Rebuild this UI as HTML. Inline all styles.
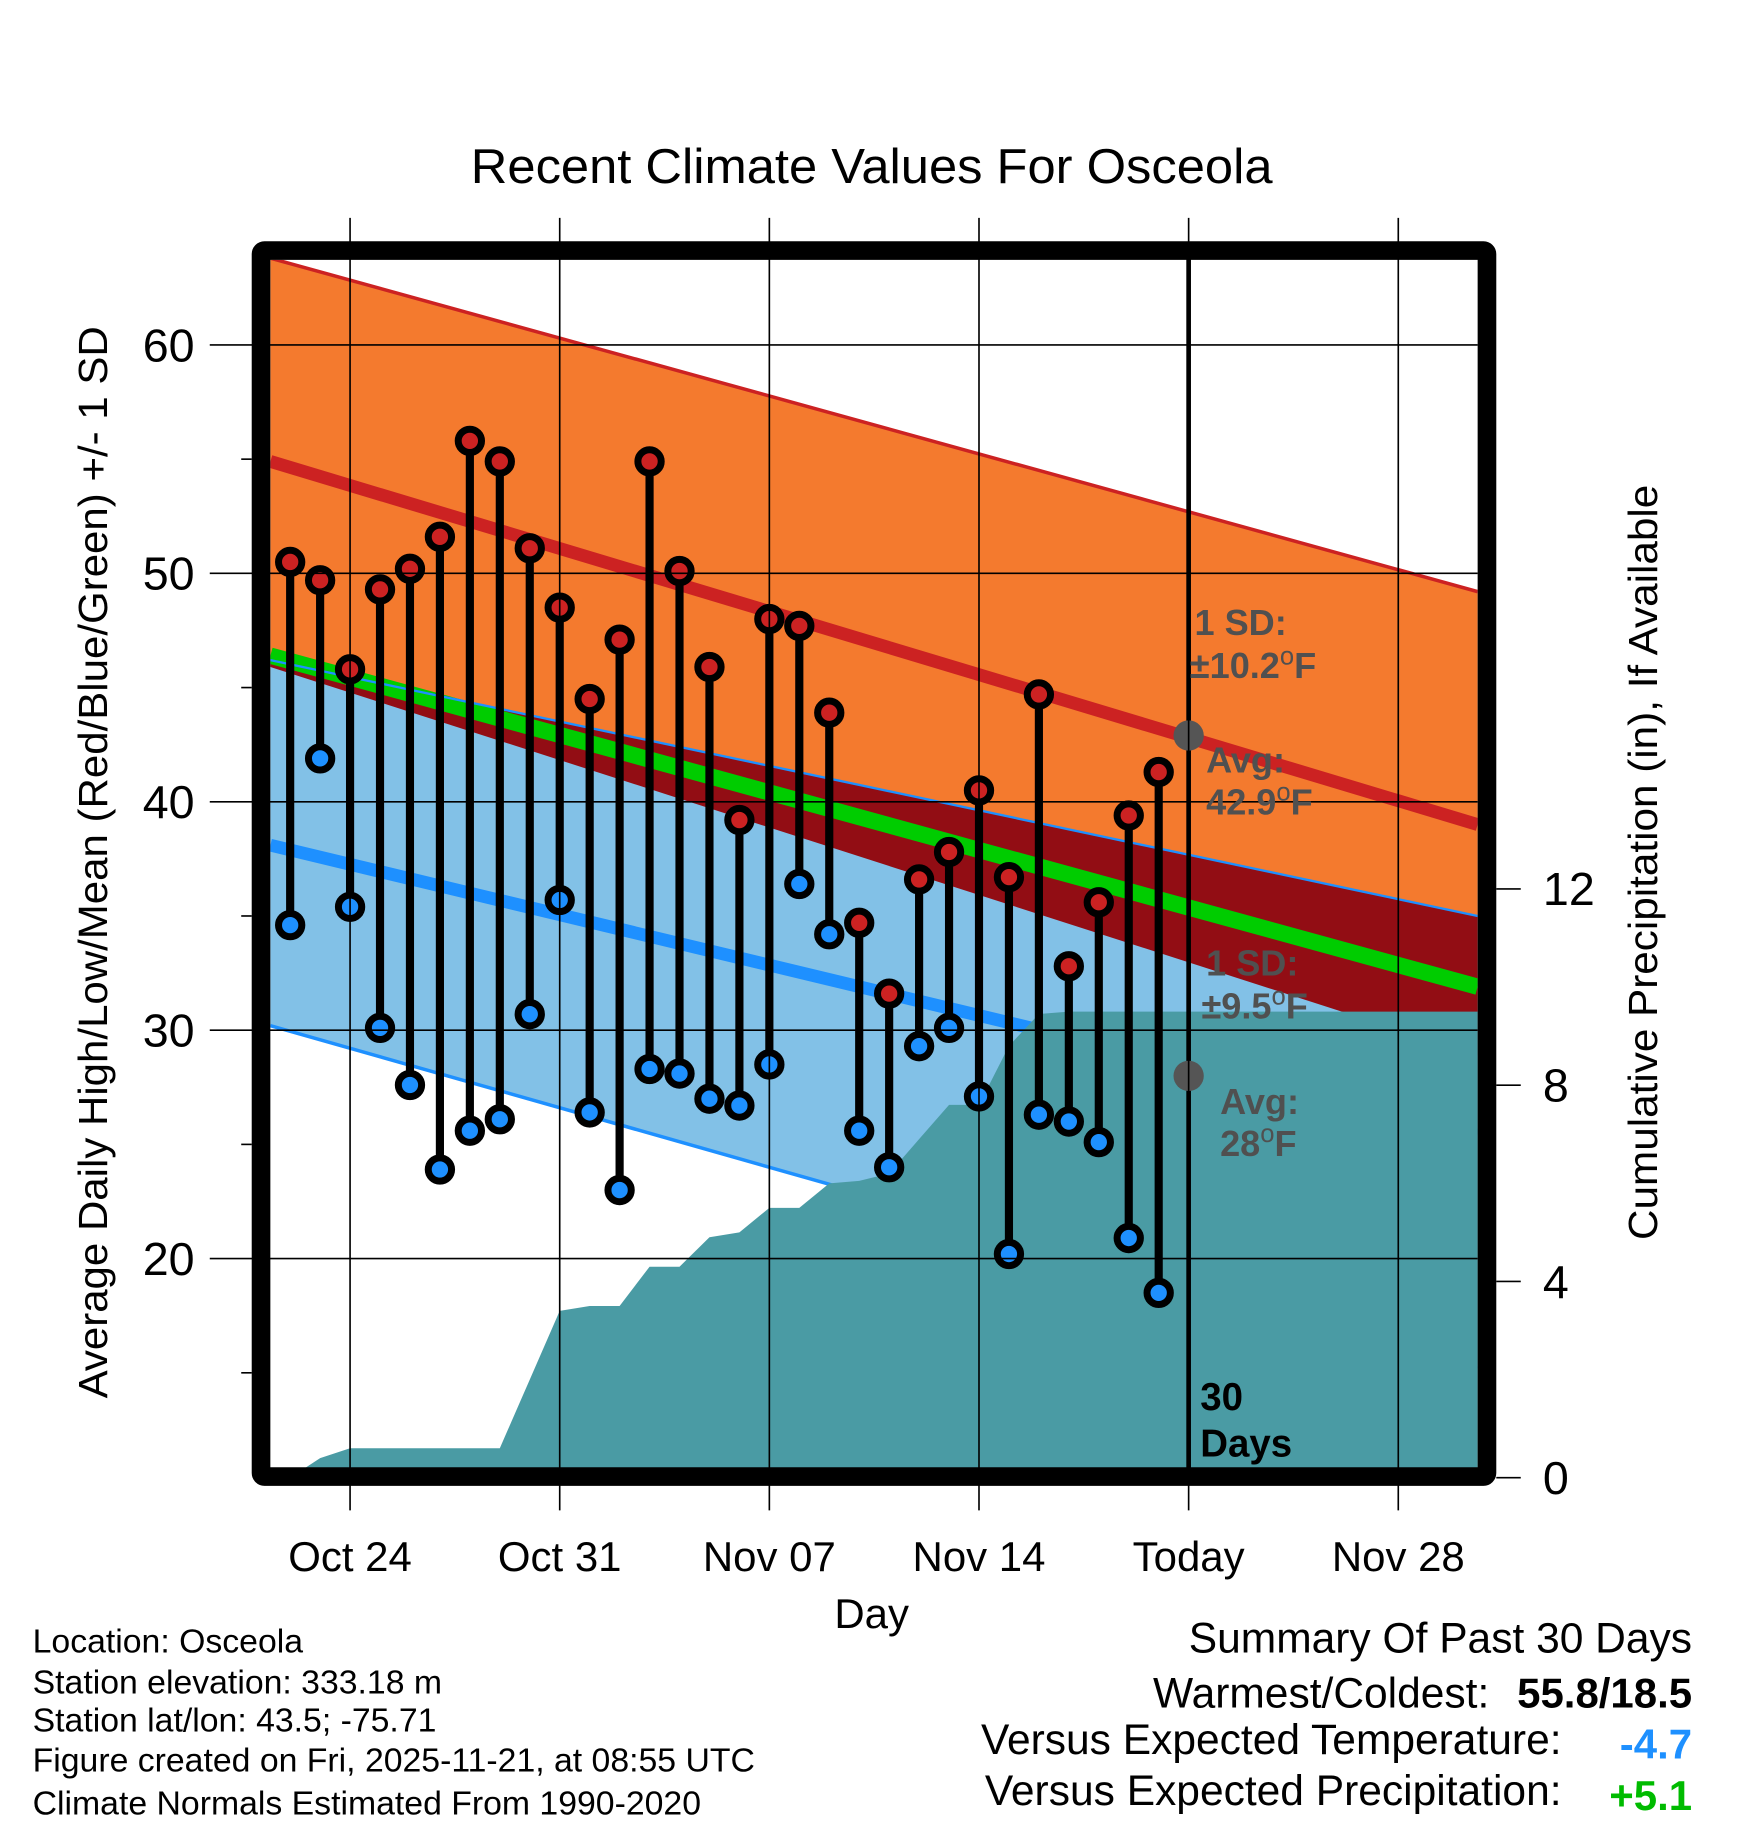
<!DOCTYPE html>
<html><head><meta charset="utf-8"><style>
html,body{margin:0;padding:0;background:#fff}
svg{display:block}
text{font-family:"Liberation Sans",sans-serif}
</style></head><body>
<svg id="chart" width="1748" height="1828" viewBox="0 0 1500 1568.6" preserveAspectRatio="none" xmlns="http://www.w3.org/2000/svg">
<defs><clipPath id="pc"><rect x="232" y="223" width="1036" height="1037"/></clipPath></defs>
<g id="plot" clip-path="url(#pc)"></g>
<g id="over"></g>
<text x="748" y="157" font-size="42" text-anchor="middle" textLength="688" lengthAdjust="spacingAndGlyphs">Recent Climate Values For Osceola</text>
<text transform="translate(92,740) rotate(-90)" font-size="35" text-anchor="middle" textLength="920" lengthAdjust="spacingAndGlyphs">Average Daily High/Low/Mean (Red/Blue/Green) +/- 1 SD</text>
<text transform="translate(1422,740) rotate(-90)" font-size="35" text-anchor="middle" textLength="648" lengthAdjust="spacingAndGlyphs">Cumulative Precipitation (in), If Available</text>
<text x="748" y="1397" font-size="36" text-anchor="middle">Day</text>
<g font-size="29">
<text x="28" y="1418">Location: Osceola</text>
<text x="28" y="1453">Station elevation: 333.18 m</text>
<text x="28" y="1486">Station lat/lon: 43.5; -75.71</text>
<text x="28" y="1520">Figure created on Fri, 2025-11-21, at 08:55 UTC</text>
<text x="28" y="1557">Climate Normals Estimated From 1990-2020</text>
</g>
<g font-size="36.5" text-anchor="end">
<text x="1452" y="1418">Summary Of Past 30 Days</text>
<text x="1278" y="1465">Warmest/Coldest:</text>
<text x="1452" y="1465" font-weight="bold" font-size="36">55.8/18.5</text>
<text x="1340" y="1505">Versus Expected Temperature:</text>
<text x="1452" y="1509" font-weight="bold" font-size="36" fill="#1e90ff">-4.7</text>
<text x="1340" y="1549">Versus Expected Precipitation:</text>
<text x="1452" y="1553" font-weight="bold" font-size="36" fill="#00bb00">+5.1</text>
</g>
</svg>
<script>
const days = ["Oct22","Oct23","Oct24","Oct25","Oct26","Oct27","Oct28","Oct29","Oct30","Oct31","Nov01","Nov02","Nov03","Nov04","Nov05","Nov06","Nov07","Nov08","Nov09","Nov10","Nov11","Nov12","Nov13","Nov14","Nov15","Nov16","Nov17","Nov18","Nov19","Nov20"];
const highs = [50.5,49.7,45.8,49.3,50.2,51.6,55.8,54.9,51.1,48.5,44.5,47.1,54.9,50.1,45.9,39.2,48.0,47.7,43.9,34.7,31.6,36.6,37.8,40.5,36.7,44.7,32.8,35.6,39.4,41.3];
const lows = [34.6,41.9,35.4,30.1,27.6,23.9,25.6,26.1,30.7,35.7,26.4,23.0,28.3,28.1,27.0,26.7,28.5,36.4,34.2,25.6,24.0,29.3,30.1,27.1,20.2,26.3,26.0,25.1,20.9,18.5];
const precip = [0,0.4,0.6,0.6,0.6,0.6,0.6,0.6,2.0,3.4,3.5,3.5,4.3,4.3,4.9,5.0,5.5,5.5,6.0,6.05,6.2,6.9,7.6,7.6,8.8,9.45,9.5,9.5,9.5,9.5];
const normDays = [-0.66, 39.65];
const hiUpper = [63.8, 49.2];
const hiMean = [54.9, 39.0];
const hiLower = [45.9, 28.9];
const meanMid = [46.4, 31.9];
const loUpper = [46.2, 35.0];
const loMean = [38.1, 25.4];
const loLower = [30.2, 15.2];
const yTicks = [60,50,40,30,20];
const yMinor = [55,45,35,25,15];
const pTicks = [0,4,8,12];
const xTickDays = [2,9,16,23,30,37];
const xTickLabels = ["Oct 24","Oct 31","Nov 07","Nov 14","Today","Nov 28"];
const todayIdx = 30;
const todayHiAvg = 42.9, todayLoAvg = 28.0;

const NS="http://www.w3.org/2000/svg";
const xs = d => 249 + d*25.7;
const ys = v => 1080 - (v-20)*19.6;
const yp = p => 1268 - p*42.1;
const plot=document.getElementById('plot'), over=document.getElementById('over'), svg=document.getElementById('chart');
function mk(tag, attrs, parent){const e=document.createElementNS(NS,tag);for(const k in attrs)e.setAttribute(k,attrs[k]);parent.appendChild(e);return e;}
function linePts(arr){return normDays.map((d,i)=>xs(d)+','+ys(arr[i]));}
function band(top,bot){const a=linePts(top), b=linePts(bot).reverse();return a.concat(b).join(' ');}

let e;
e=mk('polygon',{points:band(hiUpper,hiLower),fill:'#f47a2e'},plot);

e=mk('polygon',{points:band(loUpper,loLower),fill:'#82c1e7'},plot);

e=mk('polygon',{points:band(loUpper,hiLower),fill:'#920d14'},plot);

function ln(arr,color,w,name){const p=linePts(arr);const el=mk('polyline',{points:p.join(' '),stroke:color,'stroke-width':w,fill:'none'},plot);}
ln(meanMid,'#00cc00',14,'mean-line');
ln(loMean,'#1e90ff',11,'low-mean-line');
ln(loUpper,'#1e90ff',2,'low-upper-sd-line');
ln(loLower,'#1e90ff',3,'low-lower-sd-line');
ln(hiMean,'#cc2222',11,'high-mean-line');
ln(hiUpper,'#cc2222',3,'high-upper-sd-line');

yTicks.forEach(v=>{const g=mk('line',{x1:180,x2:1268,y1:ys(v),y2:ys(v),stroke:'#000','stroke-width':1.4},svg);});
xTickDays.forEach(d=>{const g=mk('line',{x1:xs(d),x2:xs(d),y1:187,y2:1296,stroke:'#000','stroke-width':1.4},svg);});
svg.insertBefore(plot, svg.firstChild.nextSibling);

let pts=[xs(-0.4)+','+yp(0)];
precip.forEach((p,i)=>pts.push(xs(i)+','+yp(p)));
pts.push(xs(normDays[1])+','+yp(precip[precip.length-1]));
pts.push(xs(normDays[1])+','+yp(0));
e=mk('polygon',{points:pts.join(' '),fill:'#4a9ba4'},over);


e=mk('line',{x1:xs(todayIdx),x2:xs(todayIdx),y1:215,y2:1262,stroke:'#000','stroke-width':4},over);


highs.forEach((h,i)=>{
  const s=mk('line',{x1:xs(i),x2:xs(i),y1:ys(h),y2:ys(lows[i]),stroke:'#000','stroke-width':7},over);
  
});
highs.forEach((h,i)=>{
  const c=mk('circle',{cx:xs(i),cy:ys(h),r:10,fill:'#cc2222',stroke:'#000','stroke-width':6},over);
  
  const c2=mk('circle',{cx:xs(i),cy:ys(lows[i]),r:10,fill:'#1e90ff',stroke:'#000','stroke-width':6},over);
  
});

e=mk('circle',{cx:xs(todayIdx),cy:ys(todayHiAvg),r:13,fill:'#555'},over);

e=mk('circle',{cx:xs(todayIdx),cy:ys(todayLoAvg),r:13,fill:'#555'},over);


e=mk('rect',{x:224,y:215,width:1052,height:1052,fill:'none',stroke:'#000','stroke-width':16,rx:3},svg);


yTicks.forEach(v=>{
  const t=mk('text',{x:167,y:ys(v)+14,'font-size':40,'text-anchor':'end'},svg);t.textContent=v;
  
});
yMinor.forEach(v=>{
  const t=mk('line',{x1:207,x2:216,y1:ys(v),y2:ys(v),stroke:'#000','stroke-width':1.4},svg);
  
});
pTicks.forEach(p=>{
  const l=mk('line',{x1:1284,x2:1305,y1:yp(p),y2:yp(p),stroke:'#000','stroke-width':1.4},svg);
  
  const t=mk('text',{x:1324,y:yp(p)+14,'font-size':40},svg);t.textContent=p;
  
});
xTickDays.forEach((d,i)=>{
  const t=mk('text',{x:xs(d),y:1348,'font-size':36,'text-anchor':'middle'},svg);t.textContent=xTickLabels[i];
  
});

function annot(x,y,main,deg){
  const t=mk('text',{x:x,y:y,'font-size':31,'font-weight':'bold',fill:'#505050'},svg);
  
  
  if(deg){
    t.appendChild(document.createTextNode(main));
    const s=document.createElementNS(NS,'tspan');s.setAttribute('dy','-12');s.setAttribute('font-size','22');s.setAttribute('font-weight','normal');s.textContent='o';t.appendChild(s);
    const f=document.createElementNS(NS,'tspan');f.setAttribute('dy','12');f.textContent='F';t.appendChild(f);
  } else t.textContent=main;
}
annot(1025,545,'1 SD:',false);
annot(1021,582,'±10.2',true);
annot(1035,663,'Avg:',false);
annot(1035,699,'42.9',true);
annot(1035,837,'1 SD:',false);
annot(1031,874,'±9.5',true);
annot(1047,956,'Avg:',false);
annot(1047,992,'28',true);

e=mk('text',{x:1030,y:1210,'font-size':33,'font-weight':'bold'},svg);e.textContent='30';

e=mk('text',{x:1030,y:1250,'font-size':33,'font-weight':'bold'},svg);e.textContent='Days';

</script>
</body></html>
